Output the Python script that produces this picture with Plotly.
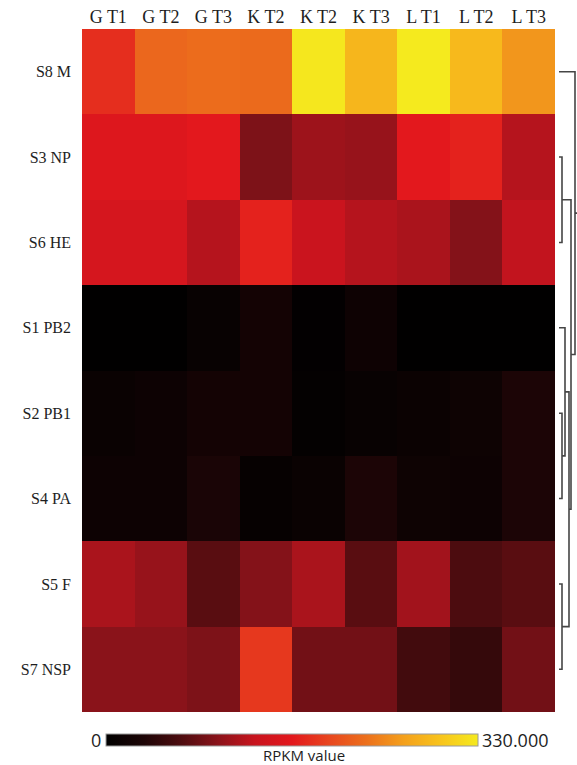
import plotly.graph_objects as go

# ---- data -------------------------------------------------------------
samples = ["G T1", "G T2", "G T3", "K T2", "K T2", "K T3", "L T1", "L T2", "L T3"]
segments = ["S8 M", "S3 NP", "S6 HE", "S1 PB2", "S2 PB1", "S4 PA", "S5 F", "S7 NSP"]

rpkm_s8_m   = [181, 224, 228, 226, 327, 284, 330, 287, 257]
rpkm_s3_np  = [158, 158, 165,  92, 109, 106, 165, 172, 122]
rpkm_s6_he  = [148, 148, 122, 172, 135, 122, 116,  96, 129]
rpkm_s1_pb2 = [  1,   1,  10,  23,   3,  16,   1,   1,   1]
rpkm_s2_pb1 = [ 12,  15,  23,  23,   5,  10,  13,  17,  33]
rpkm_s4_pa  = [ 15,  15,  31,   7,  12,  33,  17,  15,  33]
rpkm_s5_f   = [116, 106,  73,  96, 116,  73, 112,  66,  73]
rpkm_s7_nsp = [ 99,  99,  92, 188,  86,  86,  59,  50,  86]

rpkm_min = 0
rpkm_max = 330

# hierarchical clustering of the segments (row indices), merge heights
# each merge: (left child, right child, height); new nodes numbered from 8
merges = [
    (1, 2, 3),     # 8  : NP + HE
    (4, 5, 3),     # 9  : PB1 + PA
    (3, 9, 6),     # 10 : PB2 + (PB1, PA)
    (6, 7, 3),     # 11 : F + NSP
    (10, 11, 10),  # 12
    (8, 12, 12),   # 13
    (0, 13, 16),   # 14 : root
]

# ---- figure -----------------------------------------------------------
z = [rpkm_s8_m, rpkm_s3_np, rpkm_s6_he, rpkm_s1_pb2,
     rpkm_s2_pb1, rpkm_s4_pa, rpkm_s5_f, rpkm_s7_nsp]

W, H = 577, 765
hm_left, hm_right, hm_top, hm_bottom = 82, 555, 29, 712

colorscale = [
    [0.00, "#000000"],
    [0.10, "#1c0506"],
    [0.20, "#4c0c0f"],
    [0.30, "#8a131a"],
    [0.40, "#c8141e"],
    [0.50, "#e3181d"],
    [0.60, "#e8461f"],
    [0.70, "#ec701c"],
    [0.80, "#f4a01c"],
    [0.90, "#f8c41c"],
    [1.00, "#f5ea1e"],
]

bar_left, bar_right, bar_top, bar_h = 106, 478, 734, 12

fig = go.Figure()
fig.add_trace(go.Heatmap(
    z=z,
    x=list(range(len(samples))),
    y=list(range(len(segments))),
    zmin=rpkm_min, zmax=rpkm_max,
    colorscale=colorscale,
    xgap=0, ygap=0,
    hovertemplate="%{z}<extra></extra>",
    colorbar=dict(
        orientation="h",
        x=(bar_left + bar_right) / 2 / W, xanchor="center",
        y=1 - bar_top / H, yanchor="top",
        len=bar_right - bar_left, lenmode="pixels",
        thickness=bar_h, thicknessmode="pixels",
        xpad=0, ypad=0,
        outlinewidth=1, outlinecolor="#9a9a9a",
        showticklabels=False, ticks="",
    ),
))

# dendrogram lines built from the merge table
node_y = {i: float(i) for i in range(len(segments))}
node_h = {i: 0.0 for i in range(len(segments))}
dx, dy = [], []
for k, (a, b, h) in enumerate(merges):
    nid = len(segments) + k
    dx += [node_h[a], h, h, node_h[b], None]
    dy += [node_y[a], node_y[a], node_y[b], node_y[b], None]
    node_y[nid] = (node_y[a] + node_y[b]) / 2
    node_h[nid] = h
root = len(segments) + len(merges) - 1
dx += [node_h[root], node_h[root] + 10, None]
dy += [node_y[root], node_y[root], None]

fig.add_trace(go.Scatter(
    x=dx, y=dy, xaxis="x2", yaxis="y",
    mode="lines", line=dict(color="#454545", width=1.6),
    hoverinfo="skip", showlegend=False,
))

serif = "Liberation Serif, Times New Roman, serif"
sans = "Open Sans, Liberation Sans, Arial, sans-serif"

fig.update_layout(
    width=W, height=H,
    margin=dict(l=0, r=0, t=0, b=0),
    paper_bgcolor="white", plot_bgcolor="white",
    showlegend=False,
    xaxis=dict(
        domain=[hm_left / W, hm_right / W],
        range=[-0.5, len(samples) - 0.5],
        side="top",
        tickvals=list(range(len(samples))), ticktext=samples,
        tickfont=dict(family=serif, size=18, color="#1e1e1e"),
        ticks="", ticklabelstandoff=1,
        showgrid=False, zeroline=False, showline=False,
    ),
    yaxis=dict(
        domain=[1 - hm_bottom / H, 1 - hm_top / H],
        range=[len(segments) - 0.5, -0.5],
        tickvals=list(range(len(segments))), ticktext=segments,
        tickfont=dict(family=serif, size=16, color="#1e1e1e"),
        ticks="", ticklabelstandoff=10,
        showgrid=False, zeroline=False, showline=False,
    ),
    xaxis2=dict(
        domain=[559 / W, 1.0],
        range=[0, 18],
        anchor="y",
        visible=False,
    ),
    annotations=[
        dict(text=f"{rpkm_min}", x=89, y=740, xref="paper", yref="paper",
             showarrow=False, font=dict(family=sans, size=18, color="#1e1e1e")),
        dict(text=f"{rpkm_max:.3f}", x=480, y=740, xanchor="left", xref="paper", yref="paper",
             showarrow=False, font=dict(family=sans, size=18, color="#1e1e1e")),
        dict(text="RPKM value", x=304, y=755, xref="paper", yref="paper",
             showarrow=False, font=dict(family=sans, size=15, color="#1e1e1e")),
    ],
)

# annotation positions above were given in pixels; convert to paper fractions
for ann in fig.layout.annotations:
    ann.x = ann.x / W
    ann.y = 1 - ann.y / H
    ann.yanchor = "middle"

fig.write_html("out.html")
